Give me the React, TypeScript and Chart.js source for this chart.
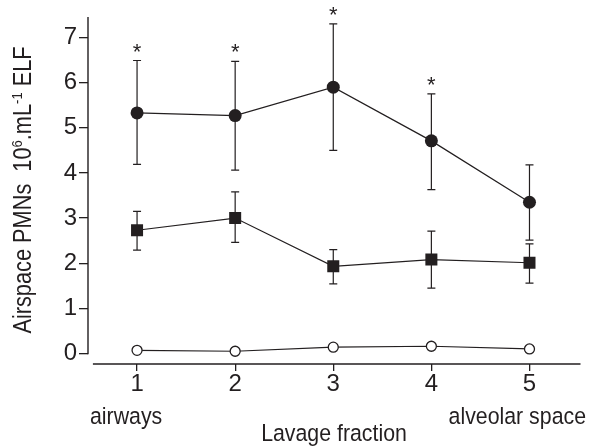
import React, { useEffect, useRef } from 'react';
import { Chart, registerables } from 'chart.js';

Chart.register(...registerables);

// ---- data ----
const FRACTIONS = [1, 2, 3, 4, 5];
const X_TICKS = [1, 2, 3, 4, 5];
const Y_TICKS = [0, 1, 2, 3, 4, 5, 6, 7];

const CLOSED_MEAN = [5.33, 5.27, 5.9, 4.71, 3.35];
const CLOSED_UPPER = [6.49, 6.47, 7.3, 5.75, 4.18];
const CLOSED_LOWER = [4.19, 4.06, 4.5, 3.63, 2.51];

const SQUARE_MEAN = [2.73, 3.0, 1.93, 2.08, 2.01];
const SQUARE_UPPER = [3.15, 3.58, 2.3, 2.71, 2.43];
const SQUARE_LOWER = [2.29, 2.46, 1.54, 1.45, 1.56];

const OPEN_MEAN = [0.07, 0.05, 0.14, 0.16, 0.1];

const SIGNIFICANT = [true, true, true, true, false];

const X_LEFT_LABEL = 'airways';
const X_RIGHT_LABEL = 'alveolar space';
const X_TITLE = 'Lavage fraction';
const Y_TITLE_PARTS = [
  { text: 'Airspace PMNs  10', sup: false },
  { text: '6', sup: true },
  { text: '.mL', sup: false },
  { text: '-1', sup: true },
  { text: ' ELF', sup: false },
];

// ---- style ----
const INK = '#231f20';
const FAMILY = '"Liberation Sans", Arial, sans-serif';
const TICK_SIZE = 24;
const LABEL_SIZE = 24.5;
const SQUEEZE = 0.87;

function drawCondensed(ctx: any, text: string, x: number, y: number, size: number, align: string) {
  ctx.save();
  ctx.translate(x, y);
  ctx.scale(SQUEEZE, 1);
  ctx.font = `${size}px ${FAMILY}`;
  ctx.textAlign = align;
  ctx.textBaseline = 'alphabetic';
  ctx.fillText(text, 0, 0);
  ctx.restore();
}

const overlayPlugin = {
  id: 'overlay',
  beforeDatasetsDraw(chart: any) {
    const { ctx, chartArea } = chart;
    const x = chart.scales.x;
    const y = chart.scales.y;
    ctx.save();
    ctx.strokeStyle = INK;
    ctx.lineWidth = 1.4;
    ctx.beginPath();
    ctx.moveTo(chartArea.left, chartArea.top);
    ctx.lineTo(chartArea.left, y.getPixelForValue(0) + 0.7);
    ctx.moveTo(x.getPixelForValue(0.55), chartArea.bottom);
    ctx.lineTo(chartArea.right, chartArea.bottom);
    ctx.stroke();

    ctx.lineWidth = 1.2;
    const cap = 4;
    const bars = (upper: number[], lower: number[]) => {
      FRACTIONS.forEach((f, i) => {
        const px = x.getPixelForValue(f);
        const pt = y.getPixelForValue(upper[i]);
        const pb = y.getPixelForValue(lower[i]);
        ctx.beginPath();
        ctx.moveTo(px, pt);
        ctx.lineTo(px, pb);
        ctx.moveTo(px - cap, pt);
        ctx.lineTo(px + cap, pt);
        ctx.moveTo(px - cap, pb);
        ctx.lineTo(px + cap, pb);
        ctx.stroke();
      });
    };
    bars(CLOSED_UPPER, CLOSED_LOWER);
    bars(SQUARE_UPPER, SQUARE_LOWER);
    ctx.restore();
  },
  afterDraw(chart: any) {
    const { ctx } = chart;
    const x = chart.scales.x;
    const y = chart.scales.y;
    ctx.save();
    ctx.fillStyle = INK;

    // asterisks
    ctx.font = `22px ${FAMILY}`;
    ctx.textAlign = 'center';
    ctx.textBaseline = 'alphabetic';
    FRACTIONS.forEach((f, i) => {
      if (!SIGNIFICANT[i]) return;
      const px = x.getPixelForValue(f);
      const pt = y.getPixelForValue(CLOSED_UPPER[i]);
      ctx.fillText('*', px, pt - 2);
    });

    // x side labels and title
    drawCondensed(ctx, X_LEFT_LABEL, 90, 424, LABEL_SIZE, 'left');
    drawCondensed(ctx, X_RIGHT_LABEL, 586, 424, LABEL_SIZE, 'right');
    drawCondensed(ctx, X_TITLE, 334, 441, LABEL_SIZE, 'center');

    // y title (rotated)
    ctx.translate(31, 190);
    ctx.rotate(-Math.PI / 2);
    ctx.scale(SQUEEZE, 1);
    const mainSize = 25;
    const supSize = 15;
    let total = 0;
    Y_TITLE_PARTS.forEach((p) => {
      ctx.font = `${p.sup ? supSize : mainSize}px ${FAMILY}`;
      total += ctx.measureText(p.text).width;
    });
    let cx = -total / 2;
    ctx.textAlign = 'left';
    Y_TITLE_PARTS.forEach((p) => {
      ctx.font = `${p.sup ? supSize : mainSize}px ${FAMILY}`;
      ctx.fillText(p.text, cx, p.sup ? -9 : 0);
      cx += ctx.measureText(p.text).width;
    });
    ctx.restore();
  },
};

export default function App() {
  const ref = useRef<HTMLCanvasElement>(null);
  useEffect(() => {
    document.body.style.margin = '0';
    const canvas = ref.current!;
    const chart = new Chart(canvas, {
      type: 'line',
      data: {
        datasets: [
          {
            label: 'closed',
            data: FRACTIONS.map((f, i) => ({ x: f, y: CLOSED_MEAN[i] })),
            borderColor: INK,
            borderWidth: 1.2,
            backgroundColor: INK,
            pointStyle: 'circle',
            pointRadius: 6.5,
            pointBorderWidth: 0,
            pointBackgroundColor: INK,
          },
          {
            label: 'square',
            data: FRACTIONS.map((f, i) => ({ x: f, y: SQUARE_MEAN[i] })),
            borderColor: INK,
            borderWidth: 1.2,
            backgroundColor: INK,
            pointStyle: 'rect',
            pointRadius: 8.5,
            pointBorderWidth: 0,
            pointBackgroundColor: INK,
          },
          {
            label: 'open',
            data: FRACTIONS.map((f, i) => ({ x: f, y: OPEN_MEAN[i] })),
            borderColor: INK,
            borderWidth: 1.2,
            backgroundColor: '#ffffff',
            pointStyle: 'circle',
            pointRadius: 5,
            pointBorderWidth: 1.3,
            pointBorderColor: INK,
            pointBackgroundColor: '#ffffff',
          },
        ],
      },
      options: {
        responsive: false,
        animation: false,
        devicePixelRatio: 1,
        layout: { padding: { top: 17, right: 7, left: 0, bottom: 0 } },
        plugins: { legend: { display: false }, tooltip: { enabled: false } },
        scales: {
          x: {
            type: 'linear',
            min: 0.5,
            max: 5.52,
            afterBuildTicks: (s: any) => {
              s.ticks = X_TICKS.map((v) => ({ value: v }));
            },
            afterFit: (s: any) => {
              s.height = 84;
            },
            border: { display: false },
            grid: { drawOnChartArea: false, drawTicks: true, tickLength: 7, color: INK, lineWidth: 1.3 },
            ticks: {
              color: INK,
              padding: 1,
              font: { family: FAMILY, size: TICK_SIZE, lineHeight: 1 },
              autoSkip: false,
              maxRotation: 0,
              callback: (v: any) => String(v),
            },
          },
          y: {
            type: 'linear',
            min: -0.233,
            max: 7.454,
            afterBuildTicks: (s: any) => {
              s.ticks = Y_TICKS.map((v) => ({ value: v }));
            },
            afterFit: (s: any) => {
              s.width = 88;
            },
            border: { display: false },
            grid: { drawOnChartArea: false, drawTicks: true, tickLength: 9, color: INK, lineWidth: 1.3 },
            ticks: {
              color: INK,
              padding: 2,
              font: { family: FAMILY, size: TICK_SIZE, lineHeight: 1 },
              autoSkip: false,
              callback: (v: any) => String(v),
            },
          },
        },
      },
      plugins: [overlayPlugin],
    } as any);
    return () => chart.destroy();
  }, []);
  return <canvas ref={ref} width={589} height={448} style={{ display: 'block', width: 589, height: 448 }} />;
}
